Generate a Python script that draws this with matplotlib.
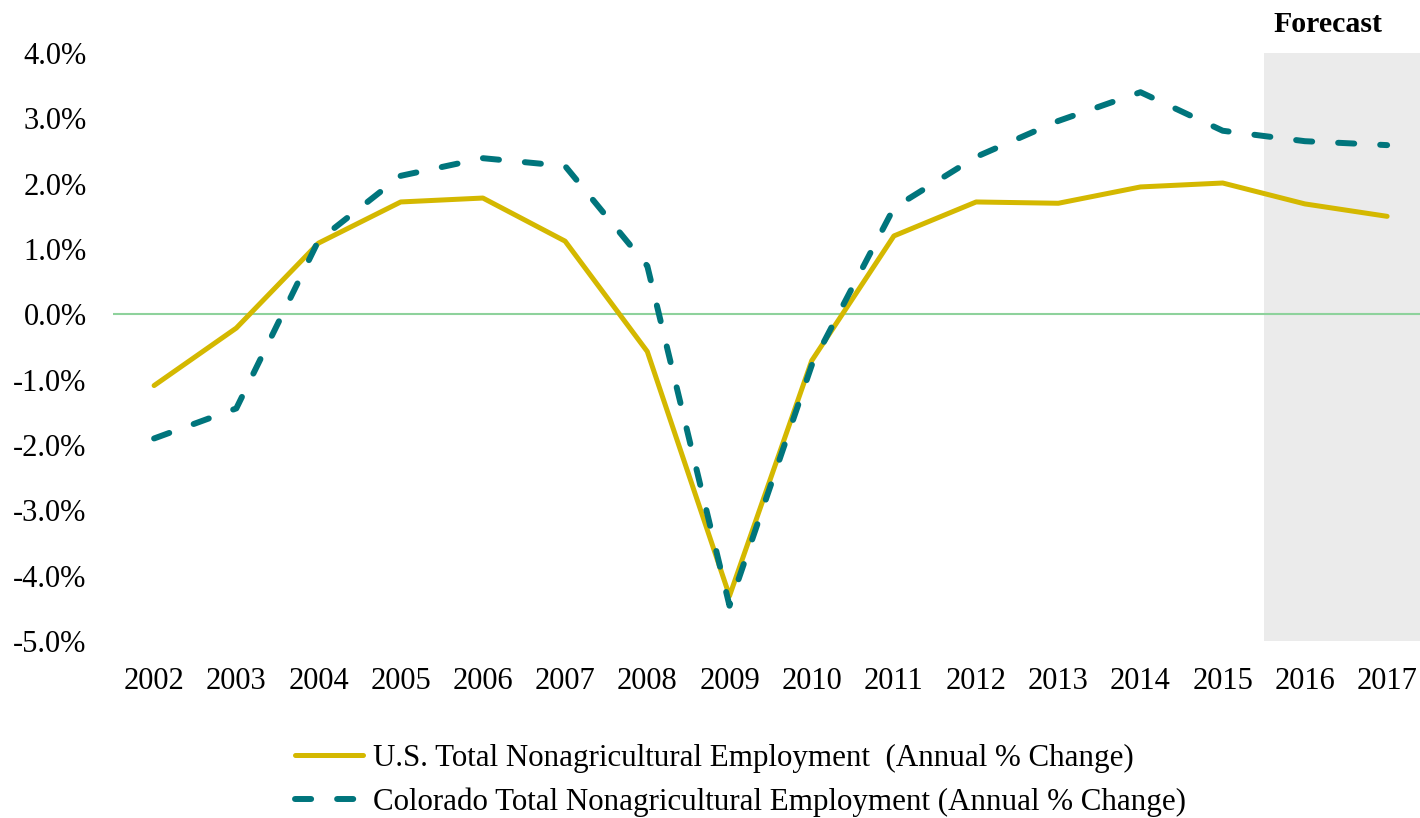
import matplotlib
matplotlib.use("Agg")
import matplotlib.pyplot as plt
from matplotlib.ticker import FuncFormatter

plt.rcParams["font.family"] = ["Liberation Serif", "DejaVu Serif"]

years = list(range(2002, 2018))
us_change = [-1.09, -0.21, 1.09, 1.72, 1.78, 1.12, -0.57, -4.31,
             -0.71, 1.20, 1.72, 1.70, 1.95, 2.01, 1.69, 1.50]
co_change = [-1.90, -1.44, 1.13, 2.12, 2.39, 2.27, 0.74, -4.46,
             -0.78, 1.63, 2.41, 2.96, 3.40, 2.81, 2.65, 2.59]
forecast_start = 2015.5
us_label = "U.S. Total Nonagricultural Employment  (Annual % Change)"
co_label = "Colorado Total Nonagricultural Employment (Annual % Change)"

fig = plt.figure(figsize=(14.2, 8.18), dpi=100)
ax = fig.add_axes([113 / 1420, 1 - 641 / 818, 1 - 113 / 1420, (641 - 53) / 818])

# forecast shading and zero line
ax.axvspan(forecast_start, 2017.6, color="#EBEBEB", lw=0, zorder=0)
ax.axhline(0, color="#8ED29C", lw=1.5, zorder=1)

ax.plot(years, us_change, color="#D4B800", lw=3.6, solid_capstyle="round",
        label=us_label, zorder=3)
ax.plot(years, co_change, color="#00757C", lw=4.3, ls=(0, (2.7, 4.35)),
        dash_capstyle="round", label=co_label, zorder=4)

ax.set_xlim(2001.5, 2017.4)
ax.set_ylim(-5, 4)
ax.set_xticks(years)
ax.set_yticks(range(-5, 5))
ax.yaxis.set_major_formatter(FuncFormatter(lambda v, p: f"{v:.1f}%"))
ax.tick_params(length=0, labelsize=22)
ax.tick_params(axis="y", pad=19)
ax.tick_params(axis="x", pad=19)
for s in ax.spines.values():
    s.set_visible(False)

ax.text(2016.28, 1.026, "Forecast", transform=ax.get_xaxis_transform(),
        ha="center", va="bottom", fontsize=21.5, fontweight="bold")

fig.legend(loc="upper left", bbox_to_anchor=(295 / 1420, 1 - 744 / 818),
           frameon=False, fontsize=22.3, handlelength=2.2, handletextpad=0.33,
           labelspacing=0.45, borderaxespad=0, borderpad=0)

fig.savefig("out.png", dpi=100)
